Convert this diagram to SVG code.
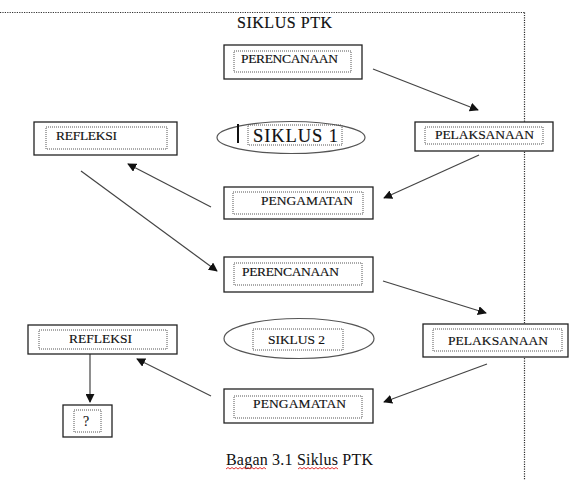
<svg xmlns="http://www.w3.org/2000/svg" width="572" height="480" viewBox="0 0 572 480">
<defs>
<marker id="ah" viewBox="0 0 10 10" refX="9" refY="5" markerWidth="9" markerHeight="9" markerUnits="userSpaceOnUse" orient="auto">
<path d="M0,0 L10,5 L0,10 z" fill="#111"/>
</marker>
</defs>
<style>
.frame{fill:none;stroke:#333;stroke-width:1.2;stroke-dasharray:1.2 1.2}
.box{fill:#fff;stroke:#222;stroke-width:1.3}
.inner{fill:none;stroke:#555;stroke-width:1;stroke-dasharray:1 1}
.ell{fill:#fff;stroke:#555;stroke-width:1.2}
.t{font-family:"Liberation Serif","Times New Roman",serif;font-size:13.5px;fill:#111;stroke:#111;stroke-width:0.15}
.big{font-family:"Liberation Serif","Times New Roman",serif;font-size:16px;fill:#111;stroke:#111;stroke-width:0.15}
.conn line{stroke:#444;stroke-width:1.2;marker-end:url(#ah)}
.wavy{fill:none;stroke:#d00;stroke-width:0.8}
</style>
<rect width="572" height="480" fill="#fff"/>
<g id="frame">
<line class="frame" x1="0" y1="12.5" x2="524.5" y2="12.5"/>
<line class="frame" x1="524.5" y1="12.5" x2="524.5" y2="480"/>
</g>
<text class="big" x="237" y="28" textLength="95">SIKLUS PTK</text>
<g class="conn">
<line x1="373" y1="69" x2="478" y2="110"/>
<line x1="479" y1="155" x2="384" y2="198"/>
<line x1="211" y1="207" x2="128" y2="164"/>
<line x1="81" y1="171" x2="217" y2="271"/>
<line x1="383" y1="281" x2="486" y2="313"/>
<line x1="487" y1="364" x2="384" y2="402"/>
<line x1="211" y1="396" x2="137" y2="359"/>
<line x1="90" y1="354" x2="90" y2="402"/>
</g>
<g id="perencanaan1">
<rect class="box" x="224" y="45" width="138" height="34"/>
<rect class="inner" x="234" y="51" width="117" height="21"/>
<text class="t" x="241" y="63" textLength="97">PERENCANAAN</text>
</g>
<g id="refleksi1">
<rect class="box" x="34" y="122" width="143" height="33"/>
<rect class="inner" x="46" y="127" width="121" height="22"/>
<text class="t" x="56" y="140" textLength="61">REFLEKSI</text>
</g>
<g id="siklus1">
<ellipse class="ell" cx="291" cy="137.5" rx="74" ry="16"/>
<rect class="inner" x="248" y="125" width="94" height="20"/>
<rect x="237" y="124" width="2" height="19" fill="#111"/>
<text class="big" x="253" y="142" textLength="85" style="font-size:18.5px">SIKLUS 1</text>
</g>
<g id="pelaksanaan1">
<rect class="box" x="415" y="122" width="138" height="29"/>
<rect class="inner" x="425" y="127" width="118" height="17"/>
<text class="t" x="435" y="139" textLength="99">PELAKSANAAN</text>
</g>
<g id="pengamatan1">
<rect class="box" x="224" y="187" width="149" height="32"/>
<rect class="inner" x="233" y="192" width="130" height="22"/>
<text class="t" x="261" y="205" textLength="92">PENGAMATAN</text>
</g>
<g id="perencanaan2">
<rect class="box" x="224" y="257" width="149" height="35"/>
<rect class="inner" x="234" y="263" width="128" height="22"/>
<text class="t" x="242" y="276" textLength="97">PERENCANAAN</text>
</g>
<g id="siklus2">
<ellipse class="ell" cx="299" cy="338.5" rx="75" ry="20"/>
<rect class="inner" x="253" y="329" width="90" height="21"/>
<text class="t" x="268" y="344" textLength="57">SIKLUS 2</text>
</g>
<g id="pelaksanaan2">
<rect class="box" x="423" y="324" width="145" height="33"/>
<rect class="inner" x="433" y="329" width="129" height="22"/>
<text class="t" x="448" y="345" textLength="100">PELAKSANAAN</text>
</g>
<g id="refleksi2">
<rect class="box" x="28" y="325" width="149" height="29"/>
<rect class="inner" x="39" y="330" width="128" height="19"/>
<text class="t" x="69" y="343" textLength="63">REFLEKSI</text>
</g>
<g id="tanya">
<rect class="box" x="63" y="405" width="49" height="32"/>
<rect class="inner" x="74" y="410" width="27" height="22"/>
<text class="t" x="83" y="426" style="font-size:14px;stroke-width:0.1">?</text>
</g>
<g id="pengamatan2">
<rect class="box" x="224" y="389" width="149" height="34"/>
<rect class="inner" x="234" y="396" width="128" height="22"/>
<text class="t" x="253" y="408" textLength="93">PENGAMATAN</text>
</g>
<g id="caption">
<text class="big" x="226" y="465" textLength="147" style="stroke-width:0">Bagan 3.1 Siklus PTK</text>
<path class="wavy" d="M226,469 l2,-1.5 l2,1.5 l2,-1.5 l2,1.5 l2,-1.5 l2,1.5 l2,-1.5 l2,1.5 l2,-1.5 l2,1.5 l2,-1.5 l2,1.5 l2,-1.5 l2,1.5 l2,-1.5 l2,1.5 l2,-1.5 l2,1.5 l2,-1.5 l2,1.5"/>
<path class="wavy" d="M298,469 l2,-1.5 l2,1.5 l2,-1.5 l2,1.5 l2,-1.5 l2,1.5 l2,-1.5 l2,1.5 l2,-1.5 l2,1.5 l2,-1.5 l2,1.5 l2,-1.5 l2,1.5 l2,-1.5 l2,1.5 l2,-1.5 l2,1.5 l2,-1.5 l2,1.5"/>
</g>
</svg>
